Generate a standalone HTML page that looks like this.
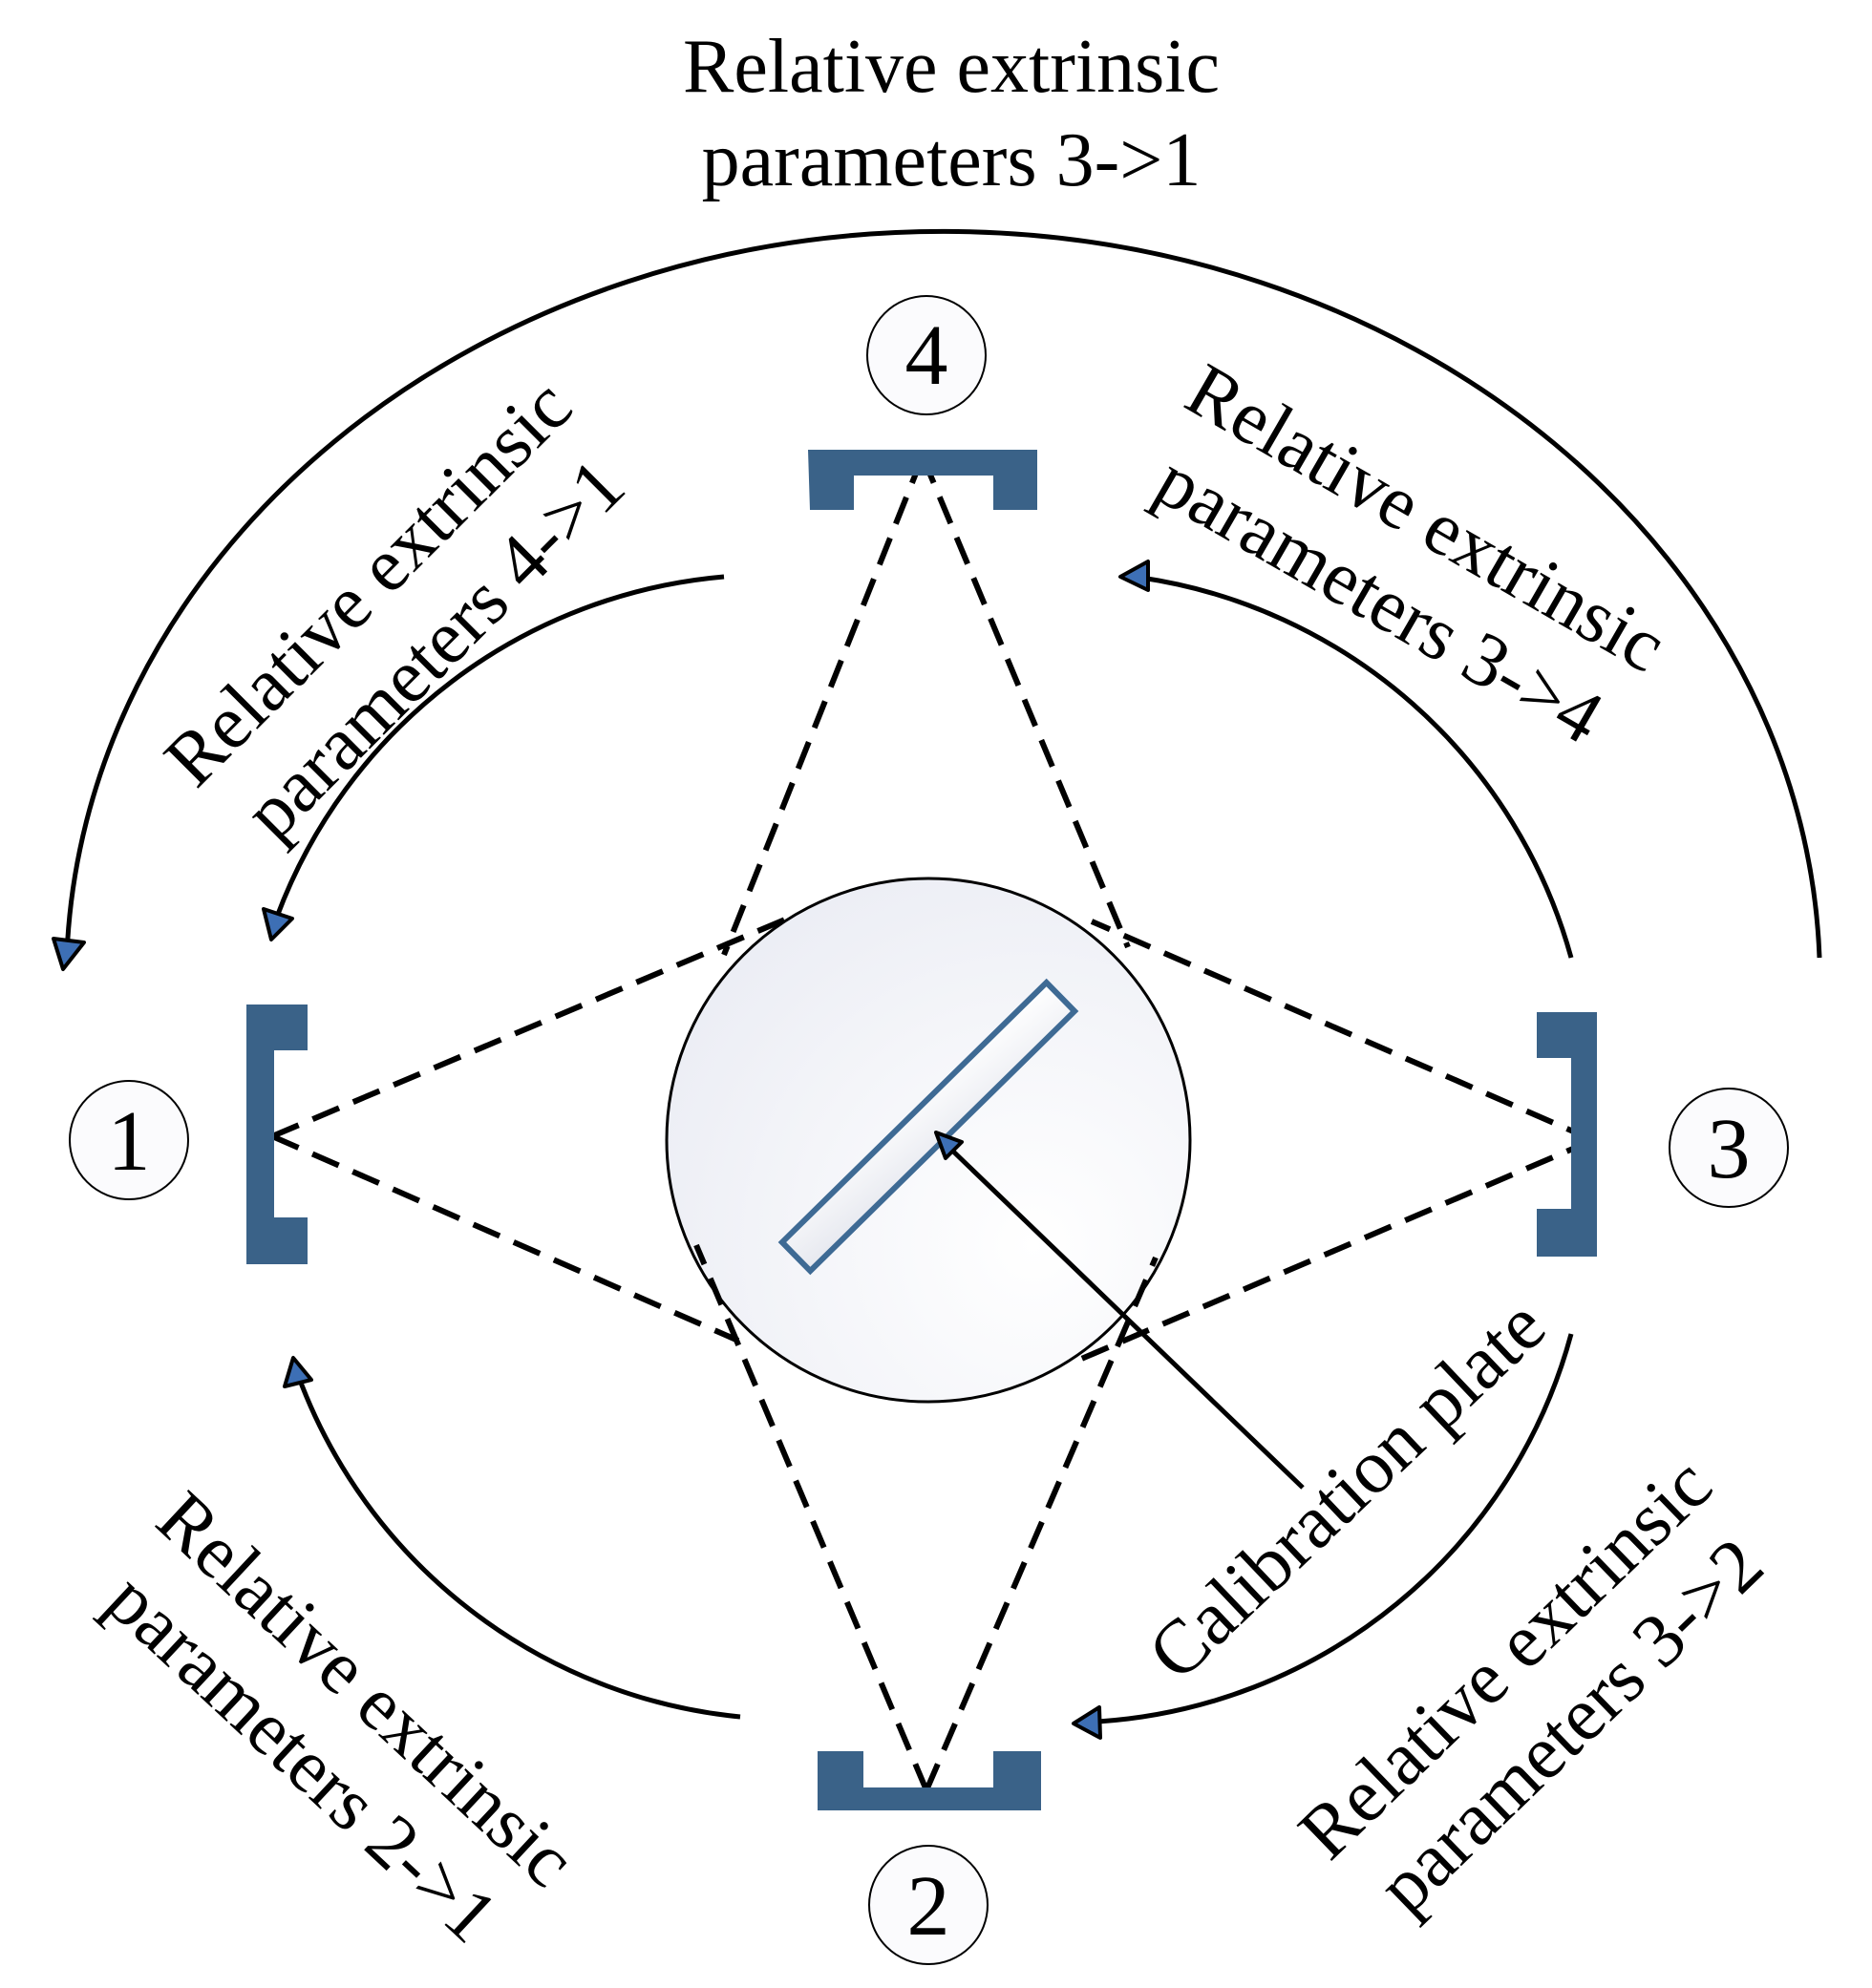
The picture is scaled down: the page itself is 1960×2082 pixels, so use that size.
<!DOCTYPE html>
<html><head><meta charset="utf-8"><style>
html,body{margin:0;padding:0;background:#fff;}
svg{display:block;}
text{font-family:"Liberation Serif",serif;fill:#000;}
</style></head><body>
<svg width="1960" height="2082" viewBox="0 0 1960 2082" xmlns="http://www.w3.org/2000/svg">
<defs>
<radialGradient id="cg" cx="0.7" cy="0.7" r="0.9">
<stop offset="0" stop-color="#ffffff"/><stop offset="1" stop-color="#e9ebf3"/>
</radialGradient>
<linearGradient id="pg" x1="0" y1="1" x2="1" y2="0">
<stop offset="0" stop-color="#e6e8ef"/><stop offset="1" stop-color="#ffffff"/>
</linearGradient>
</defs>

<!-- title -->
<text x="996" y="96" font-size="80" text-anchor="middle">Relative extrinsic</text>
<text x="996" y="194" font-size="80" text-anchor="middle">parameters 3-&gt;1</text>

<!-- big arc -->
<path d="M1905,1003 A 918 785 0 0 0 70,1000" fill="none" stroke="#000" stroke-width="5"/>
<polygon points="56,983 88,987 66,1015" fill="#3d6fb5" stroke="#000" stroke-width="4" stroke-linejoin="round"/>

<!-- inner arcs -->
<path d="M758,604 A 550 550 0 0 0 290,960" fill="none" stroke="#000" stroke-width="5"/>
<polygon points="276,952 306,962 284,984" fill="#3d6fb5" stroke="#000" stroke-width="4" stroke-linejoin="round"/>

<path d="M1645,1003 A 550 550 0 0 0 1195,605" fill="none" stroke="#000" stroke-width="5"/>
<polygon points="1173,604 1202,588 1202,618" fill="#3d6fb5" stroke="#000" stroke-width="4" stroke-linejoin="round"/>

<path d="M775,1798 A 550 550 0 0 1 312,1440" fill="none" stroke="#000" stroke-width="5"/>
<polygon points="307,1422 298,1452 326,1445" fill="#3d6fb5" stroke="#000" stroke-width="4" stroke-linejoin="round"/>

<path d="M1645,1397 A 550 550 0 0 1 1150,1803" fill="none" stroke="#000" stroke-width="5"/>
<polygon points="1124,1805 1151,1788 1152,1820" fill="#3d6fb5" stroke="#000" stroke-width="4" stroke-linejoin="round"/>

<!-- big circle -->
<circle cx="972" cy="1194" r="274" fill="url(#cg)" stroke="#000" stroke-width="3"/>

<!-- dashed lines -->
<g stroke="#000" stroke-width="6" stroke-dasharray="30,16" fill="none">
<line x1="966" y1="478" x2="758" y2="1000"/>
<line x1="966" y1="478" x2="1181" y2="992"/>
<line x1="285" y1="1190" x2="822" y2="963"/>
<line x1="285" y1="1190" x2="773" y2="1404"/>
<line x1="1668" y1="1194" x2="1143" y2="965"/>
<line x1="1668" y1="1194" x2="1130" y2="1424"/>
<line x1="970" y1="1875" x2="729" y2="1304"/>
<line x1="970" y1="1875" x2="1210" y2="1317"/>
</g>

<!-- plate -->
<g transform="translate(972,1180) rotate(-44.5)">
<rect x="-194" y="-21" width="388" height="42" fill="url(#pg)" stroke="#3e6a94" stroke-width="6"/>
</g>

<!-- calibration arrow -->
<line x1="1364" y1="1558" x2="992" y2="1200" stroke="#000" stroke-width="5"/>
<polygon points="980,1186 1007,1196 990,1213" fill="#3d6fb5" stroke="#000" stroke-width="4" stroke-linejoin="round"/>

<!-- cameras -->
<g fill="#3a6288">
<path d="M846,471 H1086 V534 H1040 V498 H894 V534 H848 Z"/>
<path d="M856,1834 H904 V1872 H1040 V1834 H1090 V1896 H856 Z"/>
<path d="M258,1052 H322 V1100 H287 V1275 H322 V1324 H258 Z"/>
<path d="M1609,1060 H1672 V1316 H1609 V1266 H1645 V1108 H1609 Z"/>
</g>

<!-- number circles -->
<g stroke="#000" stroke-width="2" fill="#fbfbfd">
<circle cx="970" cy="372" r="62"/>
<circle cx="135" cy="1194" r="62"/>
<circle cx="1810" cy="1202" r="62"/>
<circle cx="972" cy="1995" r="62"/>
</g>
<g font-size="90" text-anchor="middle">
<text x="970" y="402">4</text>
<text x="135" y="1225">1</text>
<text x="1810" y="1233">3</text>
<text x="972" y="2026">2</text>
</g>

<!-- rotated labels -->
<g font-size="80" text-anchor="middle">
<g transform="translate(421,646) rotate(-45)">
<text x="0" y="-24">Relative extrinsic</text>
<text x="0" y="74">parameters 4-&gt;1</text>
</g>
<g transform="translate(1468,586) rotate(30)">
<text x="0" y="-24">Relative extrinsic</text>
<text x="0" y="74">parameters 3-&gt;4</text>
</g>
<g transform="translate(349,1806) rotate(43)">
<text x="0" y="-24">Relative extrinsic</text>
<text x="0" y="74">parameters 2-&gt;1</text>
</g>
<g transform="translate(1611,1773) rotate(-44)">
<text x="0" y="-24">Relative extrinsic</text>
<text x="0" y="74">parameters 3-&gt;2</text>
</g>
<g transform="translate(1411,1561) rotate(-43.5)">
<text x="0" y="25">Calibration plate</text>
</g>
</g>
</svg>
</body></html>
